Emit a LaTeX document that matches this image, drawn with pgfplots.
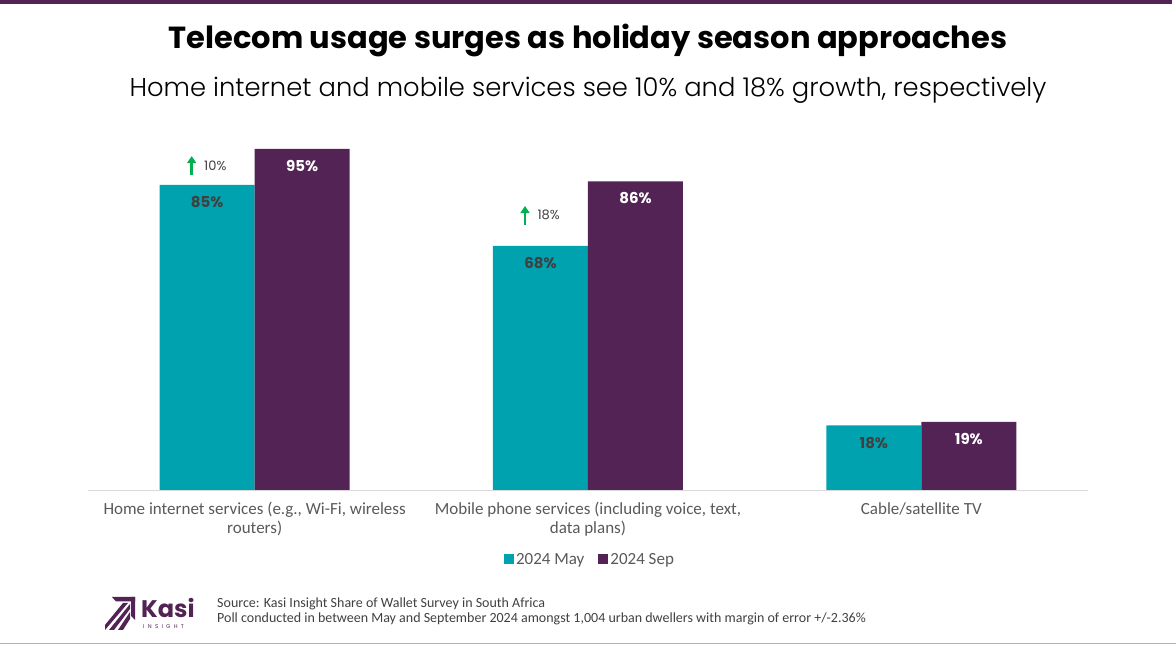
\documentclass[border=0pt]{standalone}
\usepackage{pgfplots}
\pgfplotsset{compat=1.18}
\usepackage{fontspec}
\setmainfont{Carlito}
\newfontfamily\pop{Poppins}
\newfontfamily\popl{Poppins Light}
\usetikzlibrary{arrows.meta}
\definecolor{kteal}{RGB}{0,162,176}
\definecolor{kpurple}{RGB}{82,35,84}
\definecolor{kgreen}{RGB}{0,176,80}
\definecolor{labgray}{RGB}{89,89,89}
\definecolor{valgray}{RGB}{64,64,64}
\begin{document}
\begin{tikzpicture}
\useasboundingbox (0,0) rectangle (1176pt,647pt);
% frame lines
\fill[kpurple] (0,643pt) rectangle (1172pt,646.5pt);
\draw[gray!60, line width=0.8pt] (0,4pt) -- (1176pt,4pt);
% titles
\node[font={\pop\bfseries\fontsize{30.5}{34}\selectfont}] at (588pt,607pt) {Telecom usage surges as holiday season approaches};
\node[font={\popl\fontsize{25.8}{30}\selectfont}] at (588pt,557pt) {Home internet and mobile services see 10\% and 18\% growth, respectively};

\begin{axis}[
    at={(88pt,157pt)}, anchor=south west,
    scale only axis,
    width=1000pt, height=359pt,
    ybar=0pt, bar width=95pt,
    xmin=-0.5, xmax=2.5, ymin=0, ymax=100,
    axis y line=none,
    axis x line*=bottom,
    x axis line style={draw=gray!30, line width=0.8pt, -},
    major tick length=0pt,
    xtick={0,1,2},
    xticklabels={{Home internet services (e.g., Wi-Fi, wireless\\routers)},
                 {Mobile phone services (including voice, text,\\data plans)},
                 {Cable/satellite TV}},
    xticklabel style={align=center, text=labgray, font=\fontsize{17}{19}\selectfont, yshift=-9pt},
    /pgf/number format/assume math mode=true,
    nodes near coords={\pgfmathprintnumber{\pgfplotspointmeta}\%},
    every node near coord/.append style={anchor=north, yshift=-8pt, font={\pop\bfseries\fontsize{15}{18}\selectfont}},
    legend style={at={(0.502,-0.193)}, anchor=center, draw=none, legend columns=2,
        font=\fontsize{17}{19}\selectfont, text=labgray,
        /tikz/every even column/.append style={column sep=12pt}},
    legend image code/.code={\fill[#1] (0pt,-5pt) rectangle (10pt,5pt);},
]
\addplot[fill=kteal, draw=none, every node near coord/.append style={text=valgray}] coordinates {(0,85) (1,68) (2,18)};
\addplot[fill=kpurple, draw=none, every node near coord/.append style={text=white}] coordinates {(0,95) (1,86) (2,19)};
\legend{2024 May, 2024 Sep}
% growth annotations
\draw[kgreen, line width=2.6pt, -{Triangle[length=7pt,width=9pt]}] (axis cs:-0.189,87.7) -- (axis cs:-0.189,93.0);
\node[anchor=west, inner sep=0pt, font={\pop\fontsize{13}{15}\selectfont}, text=valgray] at (axis cs:-0.152,90.3) {10\%};
\draw[kgreen, line width=2.6pt, -{Triangle[length=7pt,width=9pt]}] (axis cs:0.811,73.8) -- (axis cs:0.811,79.1);
\node[anchor=west, inner sep=0pt, font={\pop\fontsize{13}{15}\selectfont}, text=valgray] at (axis cs:0.848,76.6) {18\%};
\end{axis}

% logo
\fill[kpurple] (112pt,50pt) -- (135pt,50pt) -- (135pt,45.5pt) -- (116pt,45.5pt) -- cycle;
\fill[kpurple] (131pt,50pt) -- (135pt,50pt) -- (135pt,27pt) -- (131pt,31pt) -- cycle;
\fill[kpurple] (105pt,22pt) -- (105pt,17pt) -- (128pt,44pt) -- (123pt,44pt) -- cycle;
\fill[kpurple] (109pt,17pt) -- (114pt,17pt) -- (130pt,38pt) -- (130pt,43pt) -- cycle;
\fill[kpurple] (118pt,17pt) -- (123pt,17pt) -- (130pt,28pt) -- (130pt,35pt) -- cycle;
\node[anchor=base west, inner sep=0pt, text=kpurple, font={\pop\bfseries\fontsize{24}{28}\selectfont}] at (141pt,29.5pt) {Kasi};
\node[anchor=west, inner sep=0pt, text=kpurple, font={\pop\fontsize{5.5}{6}\selectfont\addfontfeatures{LetterSpace=60}}] at (143pt,20pt) {INSIGHT};
% source
\node[anchor=west, inner sep=0pt, text=valgray, font=\fontsize{14}{16}\selectfont] at (217pt,43pt) {Source: Kasi Insight Share of Wallet Survey in South Africa};
\node[anchor=west, inner sep=0pt, text=valgray, font=\fontsize{14}{16}\selectfont] at (217pt,28pt) {Poll conducted in between May and September 2024 amongst 1,004 urban dwellers with margin of error +/-2.36\%};
\end{tikzpicture}
\end{document}
